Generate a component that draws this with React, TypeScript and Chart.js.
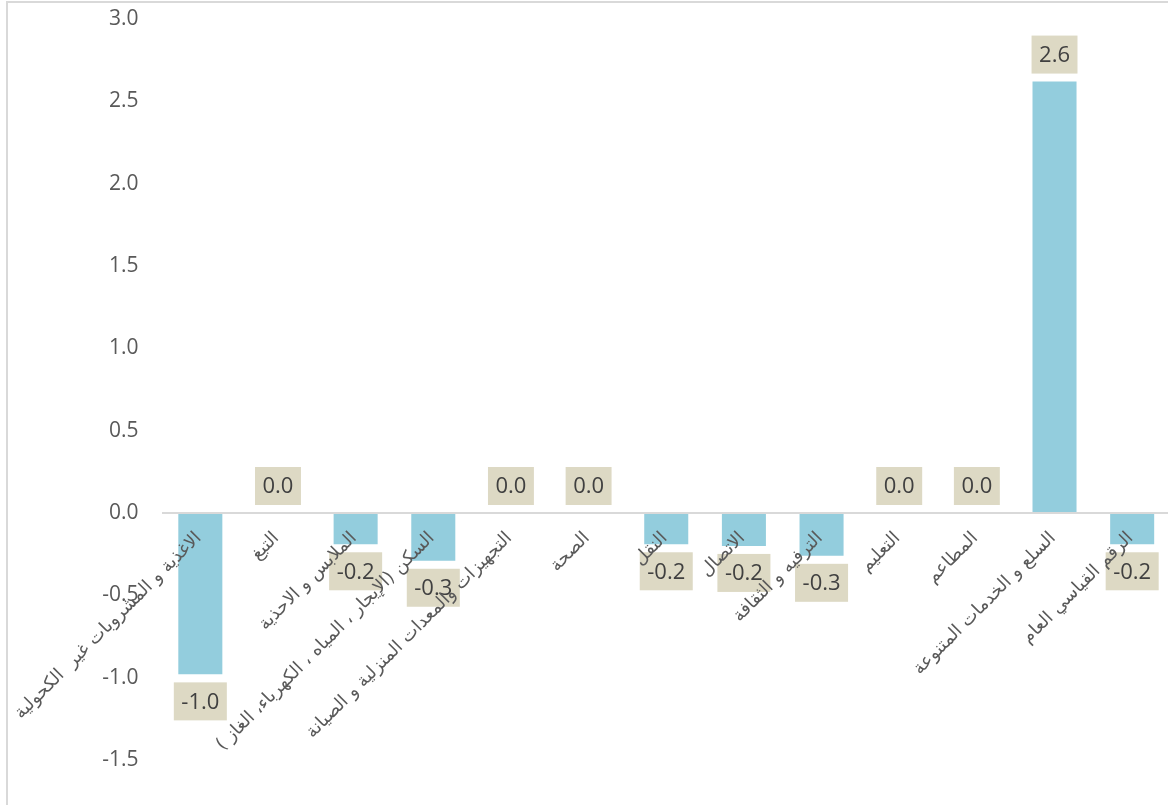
import React, { useEffect, useRef } from 'react';
import { Chart, registerables } from 'chart.js';

Chart.register(...registerables);

const categories = [
  'الاغذية و المشروبات غير  الكحولية',
  'التبغ',
  'الملابس و الاحذية',
  'السكن (الإيجار ، المياه ، الكهرباء، الغاز )',
  'التجهيزات والمعدات المنزلية و الصيانة',
  'الصحة',
  'النقل',
  'الاتصال',
  'الترفيه و الثقافة',
  'التعليم',
  'المطاعم',
  'السلع و الخدمات المتنوعة',
  'الرقم القياسي العام',
];

const values = [-0.98, 0.0, -0.19, -0.29, 0.0, 0.0, -0.19, -0.2, -0.26, 0.0, 0.0, 2.62, -0.19];

const yMin = -1.5;
const yMax = 3.0;
const yStep = 0.5;

export default function App() {
  const ref = useRef<HTMLCanvasElement | null>(null);

  useEffect(() => {
    const canvas = ref.current;
    if (!canvas) return;

    const framePlugin = {
      id: 'frame',
      beforeDraw(chart: any) {
        const ctx = chart.ctx;
        ctx.save();
        ctx.fillStyle = '#ffffff';
        ctx.fillRect(0, 0, chart.width, chart.height);
        ctx.strokeStyle = '#D9D9D9';
        ctx.lineWidth = 2;
        ctx.beginPath();
        ctx.moveTo(7, chart.height);
        ctx.lineTo(7, 2);
        ctx.lineTo(chart.width, 2);
        ctx.stroke();
        ctx.restore();
      },
    };

    const labelPlugin = {
      id: 'valueAndCategoryLabels',
      afterDatasetsDraw(chart: any) {
        const ctx = chart.ctx;
        const meta = chart.getDatasetMeta(0);
        const ys = chart.scales.y;
        const xs = chart.scales.x;
        const zeroY = ys.getPixelForValue(0);
        ctx.save();
        ctx.font = '22px "Open Sans"';
        meta.data.forEach((bar: any, i: number) => {
          const v = values[i];
          const txt = v.toFixed(1);
          const w = ctx.measureText(txt).width + 15;
          const h = 38;
          const endY = ys.getPixelForValue(v);
          const top = v < 0 ? endY + 8 : endY - 8 - h;
          ctx.fillStyle = '#DDD9C4';
          ctx.fillRect(bar.x - w / 2, top, w, h);
          ctx.fillStyle = '#404040';
          ctx.textAlign = 'center';
          ctx.textBaseline = 'middle';
          ctx.fillText(txt, bar.x, top + h / 2 + 1);
        });
        ctx.font = '18px "DejaVu Sans"';
        ctx.fillStyle = '#595959';
        categories.forEach((c, i) => {
          const cx = xs.getPixelForValue(i);
          ctx.save();
          ctx.translate(cx - 8, zeroY + 16);
          ctx.rotate(-Math.PI / 4);
          ctx.direction = 'rtl';
          ctx.textAlign = 'right';
          ctx.textBaseline = 'top';
          ctx.fillText(c, 0, 0);
          ctx.restore();
        });
        ctx.restore();
      },
    };

    const chart = new Chart(canvas, {
      type: 'bar',
      data: {
        labels: categories,
        datasets: [
          {
            data: values,
            backgroundColor: '#93CDDD',
            borderWidth: 0,
            barPercentage: 1,
            categoryPercentage: 0.567,
          },
        ],
      },
      options: {
        responsive: false,
        animation: false,
        devicePixelRatio: 1,
        layout: { padding: { top: 19, bottom: 45, left: 0, right: 0 } },
        plugins: {
          legend: { display: false },
          tooltip: { enabled: false },
        },
        scales: {
          x: {
            display: false,
          },
          y: {
            min: yMin,
            max: yMax,
            afterFit: (s: any) => {
              s.width = 161.5;
            },
            ticks: {
              stepSize: yStep,
              padding: 3,
              color: '#595959',
              font: { family: '"Open Sans"', size: 21 },
              callback: (v: any) => Number(v).toFixed(1),
            },
            grid: {
              drawTicks: true,
              tickLength: 20,
              tickColor: 'rgba(0,0,0,0)',
              lineWidth: 2,
              color: (ctx: any) =>
                ctx.tick && Math.abs(ctx.tick.value) < 1e-9 ? '#D9D9D9' : 'rgba(0,0,0,0)',
            },
            border: { display: false },
          },
        },
      },
      plugins: [framePlugin, labelPlugin],
    });

    return () => {
      chart.destroy();
    };
  }, []);

  return (
    <div
      style={{
        position: 'absolute',
        left: 0,
        top: 0,
        width: 1168,
        height: 805,
        overflow: 'hidden',
        background: '#ffffff',
      }}
    >
      <canvas ref={ref} width={1171} height={805} style={{ width: 1171, height: 805, display: 'block' }} />
    </div>
  );
}
